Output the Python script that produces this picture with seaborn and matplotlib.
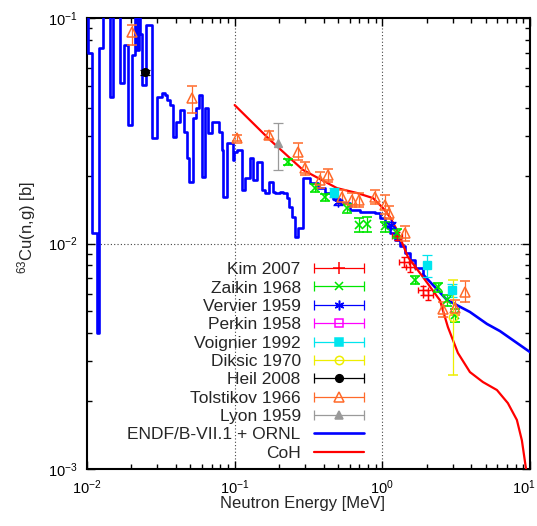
import numpy as np
import matplotlib
matplotlib.use("Agg")
import matplotlib.pyplot as plt
import matplotlib.transforms as mtransforms
import seaborn as sns
from matplotlib.lines import Line2D
from matplotlib.legend_handler import HandlerLine2D, HandlerTuple

# ---------------- data ----------------
# ENDF/B-VII.1 + ORNL (histogram part: bin edges in MeV, values in b)
endf_edges = [0.01000, 0.01020, 0.01081, 0.01160, 0.01206, 0.01289, 0.01431, 0.01500,
              0.01673, 0.01780, 0.01895, 0.02017, 0.02113, 0.02181, 0.02233, 0.02285,
              0.02357, 0.02509, 0.02755, 0.02978, 0.03205, 0.03375, 0.03464, 0.03647,
              0.03804, 0.04005, 0.04264, 0.04537, 0.04732, 0.04928, 0.05244, 0.05470,
              0.05759, 0.05978, 0.06293, 0.06626, 0.06986, 0.07865, 0.08166, 0.08372,
              0.08829, 0.09694, 0.09892, 0.1031, 0.1115, 0.1174, 0.1269, 0.1336,
              0.1409, 0.1523, 0.1604, 0.1715, 0.1825, 0.1875, 0.2026, 0.2133,
              0.2249, 0.2343, 0.2432, 0.2561, 0.2696, 0.2887, 0.3234, 0.3664,
              0.4088, 0.4630, 0.5164, 0.6036, 0.7054, 0.8913, 0.9634, 1.041,
              1.126, 1.217, 1.316, 1.422, 1.538, 1.662, 1.884]
endf_vals = [0.13, 0.0700, 0.01113, 0.00401, 0.0736, 0.13, 0.04465, 0.13,
             0.05149, 0.0759, 0.03353, 0.0686, 0.13, 0.072, 0.13, 0.085,
             0.05044, 0.0931, 0.02937, 0.04465, 0.04648, 0.04555, 0.04329, 0.04114,
             0.02968, 0.03458, 0.03908, 0.03122, 0.02394, 0.01874, 0.03602, 0.03990,
             0.04555, 0.01972, 0.03990, 0.0309, 0.03458, 0.03122, 0.02598, 0.01608,
             0.02790, 0.02346, 0.02545, 0.02598, 0.01727, 0.01952, 0.02394, 0.01912,
             0.02298, 0.01727, 0.01675, 0.01874, 0.01692, 0.01675, 0.01692, 0.01675,
             0.01591, 0.01452, 0.01311, 0.01069, 0.01171, 0.01952, 0.01855, 0.01762,
             0.01675, 0.01575, 0.01512, 0.01408, 0.01379, 0.01365, 0.01297, 0.01196,
             0.01113, 0.01036, 0.00975, 0.00908, 0.00845, 0.00779]
# ENDF fast region (pointwise)
endf_fast_e = [1.884, 2.738, 3.919, 5.108, 6.256, 10.0]
endf_fast_xs = [0.00730, 0.00562, 0.00497, 0.00440, 0.00409, 0.00330]

# CoH calculation
coh_e = [0.1, 0.1734, 0.290, 0.493, 0.673, 0.864, 1.01, 1.126, 1.256, 1.49, 1.884,
         2.455, 2.78, 3.25, 3.92, 4.80, 5.97, 7.08, 8.15, 8.81, 9.38, 9.7]
coh_xs = [0.0411, 0.0288, 0.0212, 0.0176, 0.01675, 0.0159, 0.01437, 0.0131, 0.01148,
          0.00871, 0.0071, 0.0056, 0.00426, 0.00327, 0.00269, 0.00243, 0.00224,
          0.00196, 0.00165, 0.00134, 0.00101, 0.00080]

# Experimental data: energy, value, lower error, upper error (b)
kim_e = [1.25, 1.40, 1.55, 1.88, 2.05]
kim_y = [0.0108, 0.0083, 0.0079, 0.0062, 0.0059]
kim_dy = [0.0004, 0.0004, 0.0004, 0.0003, 0.0003]
kim_dx_frac = [0.08, 0.08, 0.08, 0.08, 0.08]

zaikin_e = [0.23, 0.35, 0.41, 0.58, 0.70, 0.79, 1.04, 1.25, 1.67, 2.40, 2.75, 3.1]
zaikin_y = [0.0230, 0.0176, 0.0160, 0.0143, 0.0121, 0.0122, 0.0119, 0.0111,
            0.0069, 0.0064, 0.0056, 0.0048]
zaikin_dy = [0.0008, 0.0007, 0.0006, 0.0006, 0.0009, 0.0009, 0.0006, 0.0005,
             0.0003, 0.0003, 0.0003, 0.0003]

vervier_e = [0.50, 1.15]
vervier_y = [0.0152, 0.0121]
vervier_dy = [0.0004, 0.0004]

perkin_e = []
perkin_y = []
perkin_dy = []

voignier_e = [0.47, 2.0, 2.95]
voignier_y = [0.0168, 0.0080, 0.0062]
voignier_dy = [0.0008, 0.0009, 0.0004]

diksic_e = [3.0]
diksic_y = [0.0047]
diksic_lo = [0.0021]
diksic_hi = [0.0022]

heil_e = [0.0247]
heil_y = [0.0576]
heil_dy = [0.0015]

tol_e = [0.0201, 0.0512, 0.103, 0.171, 0.268, 0.299, 0.378, 0.426, 0.533, 0.62,
         0.70, 0.89, 1.04, 1.11, 1.42, 2.58, 3.1, 3.62]
tol_y = [0.0870, 0.0440, 0.0294, 0.0303, 0.0254, 0.0216, 0.0191, 0.0201, 0.0161,
         0.0156, 0.0156, 0.0161, 0.0148, 0.0137, 0.0111, 0.0051, 0.0052, 0.0061]
tol_lo = [0.0110, 0.0060, 0.0008, 0.0012, 0.0019, 0.0014, 0.0014, 0.0013, 0.0011,
          0.0011, 0.0011, 0.0012, 0.0013, 0.0009, 0.0008, 0.0004, 0.0004, 0.0006]
tol_hi = [0.0060, 0.0060, 0.0008, 0.0012, 0.0025, 0.0014, 0.0016, 0.0013, 0.0011,
          0.0011, 0.0011, 0.0012, 0.0016, 0.0009, 0.0008, 0.0004, 0.0004, 0.0007]

lyon_e = [0.197]
lyon_y = [0.0279]
lyon_lo = [0.0067]
lyon_hi = [0.0064]

legend_labels = ["Kim 2007", "Zaikin 1968", "Vervier 1959", "Perkin 1958",
                 "Voignier 1992", "Diksic 1970", "Heil 2008", "Tolstikov 1966",
                 "Lyon 1959", "ENDF/B-VII.1 + ORNL", "CoH"]
x_ticks = [0.01, 0.1, 1, 10]
x_ticklabels = [r"$\mathregular{10^{-2}}$", r"$\mathregular{10^{-1}}$",
                r"$\mathregular{10^{0}}$", r"$\mathregular{10^{1}}$"]
y_ticks = [0.001, 0.01, 0.1]
y_ticklabels = [r"$\mathregular{10^{-3}}$", r"$\mathregular{10^{-2}}$",
                r"$\mathregular{10^{-1}}$"]

# ---------------- style ----------------
sns.set_style("ticks")
plt.rcParams["font.family"] = ["Liberation Sans", "DejaVu Sans"]
plt.rcParams["mathtext.fontset"] = "custom"
plt.rcParams["mathtext.rm"] = "Liberation Sans"
plt.rcParams["mathtext.it"] = "Liberation Sans:italic"
plt.rcParams["mathtext.bf"] = "Liberation Sans:bold"

W, H = 537, 526
fig = plt.figure(figsize=(W / 100, H / 100), dpi=100)
L, R, T, B = 87, 530, 18, 469
ax = fig.add_axes([L / W, 1 - B / H, (R - L) / W, (B - T) / H])
ax.set_xscale("log")
ax.set_yscale("log")
ax.set_xlim(0.01, 10)
ax.set_ylim(0.001, 0.1)

# grid at major decades (dotted)
for xv in [0.1, 1]:
    ax.axvline(xv, color="#444444", lw=0.8, ls=(0, (1, 2)), zorder=0.5)
ax.axhline(0.01, color="#444444", lw=0.8, ls=(0, (1, 2)), zorder=0.5)

BLUE = "#0000ff"
RED = "#ff0000"

# ENDF histogram
hist_y = list(endf_vals) + [endf_fast_xs[0]]
sns.lineplot(x=endf_edges, y=hist_y, drawstyle="steps-post", color=BLUE, lw=1.9,
             estimator=None, sort=False, ax=ax, zorder=3)
sns.lineplot(x=endf_fast_e, y=endf_fast_xs, color=BLUE, lw=1.9,
             estimator=None, sort=False, ax=ax, zorder=3)
# CoH
sns.lineplot(x=coh_e, y=coh_xs, color=RED, lw=1.6, estimator=None, sort=False,
             ax=ax, zorder=4)

ebk = dict(capsize=3.5, elinewidth=0.9, capthick=0.9, ls="none", zorder=5)

# Kim (x and y errors)
kim_xlo = [e - e / (1 + f) for e, f in zip(kim_e, kim_dx_frac)]
kim_xhi = [e * f for e, f in zip(kim_e, kim_dx_frac)]
ax.errorbar(kim_e, kim_y, yerr=[kim_dy, kim_dy], xerr=[kim_xlo, kim_xhi],
            marker="+", ms=7, mew=1.0, color=RED,
            **{**ebk, "capsize": 2.5})
ax.errorbar(zaikin_e, zaikin_y, yerr=[zaikin_dy, zaikin_dy], marker="x", ms=6,
            mew=1.2, color="#00e600", **ebk)
ax.errorbar(vervier_e, vervier_y, yerr=[vervier_dy, vervier_dy], marker=(6, 2, 0),
            ms=7, mew=1.0, color=BLUE, **ebk)
if len(perkin_e):
    ax.errorbar(perkin_e, perkin_y, yerr=[perkin_dy, perkin_dy], marker="s", ms=6,
                mfc="none", color="#ff00ff", **ebk)
ax.errorbar(voignier_e, voignier_y, yerr=[voignier_dy, voignier_dy], marker="s",
            ms=6, color="#00e5ee", **ebk)
ax.errorbar(diksic_e, diksic_y, yerr=[diksic_lo, diksic_hi], marker="o", ms=6,
            mfc="none", mew=1.1, color="#eeee00", **ebk)
ax.errorbar(heil_e, heil_y, yerr=[heil_dy, heil_dy], marker="o", ms=5.5,
            color="black", **ebk)
ax.errorbar(tol_e, tol_y, yerr=[tol_lo, tol_hi], marker="^", ms=7, mfc="none",
            mew=1.1, color="#ff6a2a", **ebk)
ax.errorbar(lyon_e, lyon_y, yerr=[lyon_lo, lyon_hi], marker="^", ms=6,
            color="#9a9a9a", **ebk)

# ---------------- legend ----------------
specs = [(RED, "+", "none", 8), ("#00e600", "x", "none", 6), (BLUE, (6, 2, 0), "none", 7),
         ("#ff00ff", "s", "none", 6), ("#00e5ee", "s", None, 6), ("#eeee00", "o", "none", 6),
         ("black", "o", None, 5.5), ("#ff6a2a", "^", "none", 7), ("#9a9a9a", "^", None, 6)]
handles = []
hmap = {tuple: HandlerTuple(ndivide=1)}
for c, m, mfc, ms in specs:
    caps = Line2D([0], [0], color=c, lw=0.9, marker="|", ms=7, mew=0.9)
    kw = dict(color=c, ls="none", marker=m, ms=ms, mew=1.1)
    if mfc is not None:
        kw["mfc"] = mfc
    mk = Line2D([0], [0], **kw)
    hmap[caps] = HandlerLine2D(numpoints=2, marker_pad=0)
    hmap[mk] = HandlerLine2D(numpoints=1)
    handles.append((caps, mk))
handles.append(Line2D([0], [0], color=BLUE, lw=1.9))
handles.append(Line2D([0], [0], color=RED, lw=1.6))

leg = ax.legend(handles, legend_labels, handler_map=hmap, loc="upper right",
                bbox_to_anchor=(364 / W, 1 - 262 / H), bbox_transform=fig.transFigure,
                frameon=False, markerfirst=False, handlelength=2.9, handletextpad=0.75,
                labelspacing=0.185, borderpad=0, borderaxespad=0, fontsize=12.5)

# ---------------- axes ----------------
ax.set_xticks(x_ticks)
ax.set_xticklabels(x_ticklabels)
ax.set_yticks(y_ticks)
ax.set_yticklabels(y_ticklabels)
ax.tick_params(which="both", direction="in", top=True, right=True, width=1.0,
               colors="black", labelsize=10.5)
ax.tick_params(which="major", length=6, pad=7)
ax.tick_params(which="minor", length=3.5)
ax.xaxis.set_minor_formatter(matplotlib.ticker.NullFormatter())
ax.yaxis.set_minor_formatter(matplotlib.ticker.NullFormatter())
for s in ax.spines.values():
    s.set_linewidth(1.5)
    s.set_color("black")

# keep the last x tick label inside the figure
last = ax.get_xticklabels()[-1]
last.set_transform(last.get_transform() +
                   mtransforms.ScaledTranslation(-6 / 100, 0, fig.dpi_scale_trans))

ax.set_xlabel("Neutron Energy [MeV]", fontsize=12)
ax.set_ylabel(r"$\mathregular{^{63}}$Cu(n,g) [b]", fontsize=12)
ax.xaxis.set_label_coords((302 - L) / (R - L), (B - 496) / (B - T))
ax.xaxis.label.set_va("top")
ax.yaxis.set_label_coords((38 - L) / (R - L), (B - 228) / (B - T))

fig.savefig("out.png", dpi=100)
